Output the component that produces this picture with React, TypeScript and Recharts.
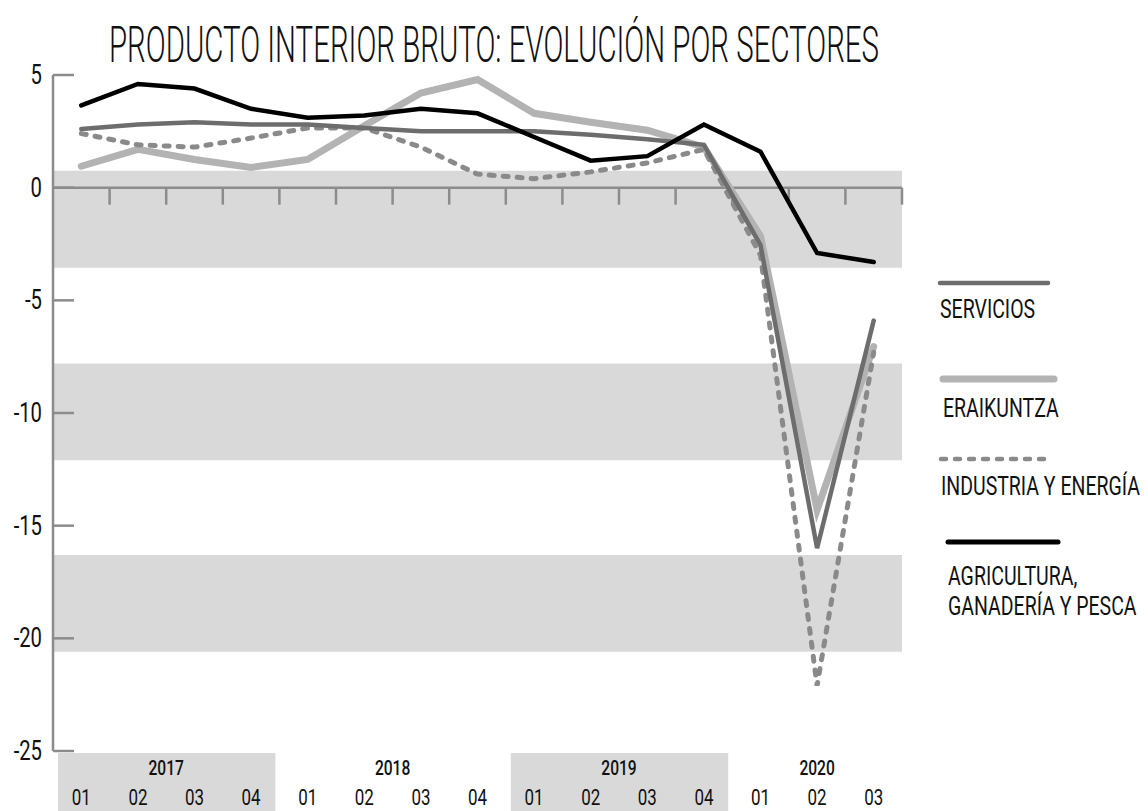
import React from "react";
import {
  ComposedChart,
  Line,
  XAxis,
  YAxis,
  ReferenceArea,
  ReferenceLine,
  Legend,
} from "recharts";

const FONT = "Roboto, 'Liberation Sans', sans-serif";

const years = ["2017", "2017", "2017", "2017", "2018", "2018", "2018", "2018", "2019", "2019", "2019", "2019", "2020", "2020", "2020"];
const quarters = ["01", "02", "03", "04", "01", "02", "03", "04", "01", "02", "03", "04", "01", "02", "03"];

const servicios = [2.6, 2.8, 2.9, 2.8, 2.8, 2.65, 2.5, 2.5, 2.5, 2.35, 2.15, 1.9, -2.55, -16.0, -5.9];
const eraikuntza = [0.95, 1.7, 1.25, 0.9, 1.25, 2.75, 4.2, 4.8, 3.3, 2.9, 2.55, 1.8, -2.15, -14.3, -7.05];
const industria = [2.4, 1.9, 1.8, 2.2, 2.65, 2.65, 1.8, 0.6, 0.4, 0.7, 1.1, 1.7, -3.0, -22.1, -7.3];
const agricultura = [3.65, 4.6, 4.4, 3.5, 3.1, 3.2, 3.5, 3.3, 2.25, 1.2, 1.4, 2.8, 1.6, -2.9, -3.3];

const yTicks = [5, 0, -5, -10, -15, -20, -25];
// shaded horizontal bands (value units)
const bands: [number, number][] = [
  [0.75, -3.55],
  [-7.8, -12.1],
  [-16.3, -20.6],
];

const data = years.map((y, i) => ({
  period: `${y}-${quarters[i]}`,
  servicios: servicios[i],
  eraikuntza: eraikuntza[i],
  industria: industria[i],
  agricultura: agricultura[i],
}));

const SERIES = [
  { key: "eraikuntza", name: "ERAIKUNTZA", color: "#b3b3b3", width: 7, dash: undefined },
  { key: "industria", name: "INDUSTRIA Y ENERGÍA", color: "#8a8a8a", width: 5, dash: "5 9" },
  { key: "servicios", name: "SERVICIOS", color: "#6d6d6d", width: 4.5, dash: undefined },
  { key: "agricultura", name: "AGRICULTURA, GANADERÍA Y PESCA", color: "#000000", width: 4.5, dash: undefined },
];

// legend order and layout (top to bottom)
const LEGEND = [
  { key: "servicios", lines: ["SERVICIOS"], y: 23, dy: 27, x0: 10, x1: 118, lw: 4.5 },
  { key: "eraikuntza", lines: ["ERAIKUNTZA"], y: 119, dy: 30, x0: 13, x1: 124, lw: 7 },
  { key: "industria", lines: ["INDUSTRIA Y ENERGÍA"], y: 199, dy: 28, x0: 11, x1: 120, lw: 4.5 },
  { key: "agricultura", lines: ["AGRICULTURA,", "GANADERÍA Y PESCA"], y: 282, dy: 35, x0: 18, x1: 128, lw: 5 },
];

const AXIS_GREY = "#8c8c8c";

// condensed-looking text: the reference uses a narrow typeface
function CText({ x, y, size, anchor = "middle", weight = 400, sx = 0.77, children }: any) {
  return (
    <text
      transform={`translate(${x},${y}) scale(${sx},1)`}
      textAnchor={anchor}
      dominantBaseline="central"
      fontFamily={FONT}
      fontSize={size}
      fontWeight={weight}
      fill="#111"
    >
      {children}
    </text>
  );
}

function ValueTick(props: any) {
  const { x, y, payload } = props;
  return (
    <g>
      <line x1={x} x2={x + 21} y1={y} y2={y} stroke={AXIS_GREY} strokeWidth={2.5} />
      <CText x={x - 11} y={y} size={27} anchor="end" sx={0.75}>
        {payload.value}
      </CText>
    </g>
  );
}

function PeriodTick(props: any) {
  const { x, y, payload, width } = props;
  const i = payload.index ?? props.index;
  const band = width / years.length;
  const yr = years[i];
  const first = i === 0 || years[i - 1] !== yr;
  const count = years.filter((v) => v === yr).length;
  const yearList = Array.from(new Set(years));
  const shaded = yearList.indexOf(yr) % 2 === 0;
  return (
    <g>
      {first && shaded && (
        <rect x={x - band / 2 + 5} y={y + 2} width={band * count - 9} height={60} fill="#d9d9d9" />
      )}
      {first && (
        <CText x={x + ((count - 1) * band) / 2} y={y + 17} size={20} weight={500} sx={0.78}>
          {yr}
        </CText>
      )}
      <CText x={x} y={y + 47} size={22} sx={0.77}>
        {quarters[i]}
      </CText>
    </g>
  );
}

function ZeroAxis(props: any) {
  const { x1, x2, y1 } = props;
  const band = (x2 - x1) / years.length;
  return (
    <g>
      <line x1={x1} x2={x2} y1={y1} y2={y1} stroke={AXIS_GREY} strokeWidth={2.5} />
      {years.map((_, i) => (
        <line
          key={i}
          x1={x1 + band * (i + 1)}
          x2={x1 + band * (i + 1)}
          y1={y1}
          y2={y1 + 17}
          stroke={AXIS_GREY}
          strokeWidth={2.5}
        />
      ))}
    </g>
  );
}

function LegendBox() {
  return (
    <svg width={218} height={380} style={{ display: "block" }}>
      {LEGEND.map((item) => {
        const s = SERIES.find((v) => v.key === item.key)!;
        return (
          <g key={item.key}>
            <line
              x1={item.x0}
              x2={item.x1}
              y1={item.y}
              y2={item.y}
              stroke={s.color}
              strokeWidth={item.lw}
              strokeDasharray={s.dash}
              strokeLinecap="round"
            />
            {item.lines.map((t, j) => (
              <CText key={j} x={item.x0} y={item.y + item.dy + j * 30} size={26} anchor="start" sx={0.75}>
                {t}
              </CText>
            ))}
          </g>
        );
      })}
    </svg>
  );
}

export default function App() {
  return (
    <div style={{ position: "relative", width: 1140, height: 803 }}>
      <svg
        width={1140}
        height={803}
        style={{ position: "absolute", left: 0, top: 0, pointerEvents: "none", zIndex: 1 }}
      >
        <text
          transform="translate(486,54) scale(1,1.39)"
          textAnchor="middle"
          fontFamily={FONT}
          fontSize={36}
          fontWeight={300}
          textLength={770}
          lengthAdjust="spacingAndGlyphs"
          fill="#111"
        >
          PRODUCTO INTERIOR BRUTO: EVOLUCIÓN POR SECTORES
        </text>
      </svg>
      <ComposedChart
        width={1140}
        height={803}
        data={data}
        margin={{ top: 67, right: 246, bottom: 0, left: 0 }}
      >
        {bands.map(([a, b], i) => (
          <ReferenceArea key={i} y1={a} y2={b} fill="#d9d9d9" fillOpacity={1} stroke="none" />
        ))}
        <XAxis
          dataKey="period"
          scale="band"
          interval={0}
          height={60}
          tickSize={0}
          tickMargin={0}
          axisLine={false}
          tickLine={false}
          tick={<PeriodTick />}
        />
        <YAxis
          domain={[-25, 5]}
          ticks={yTicks}
          interval={0}
          width={45}
          tickSize={0}
          tickMargin={0}
          tickLine={false}
          axisLine={{ stroke: AXIS_GREY, strokeWidth: 2.5 }}
          tick={<ValueTick />}
        />
        <ReferenceLine y={0} shape={<ZeroAxis />} />
        {SERIES.map((s) => (
          <Line
            key={s.key}
            type="linear"
            dataKey={s.key}
            name={s.name}
            stroke={s.color}
            strokeWidth={s.width}
            strokeDasharray={s.dash}
            strokeLinecap="round"
            dot={false}
            activeDot={false}
            isAnimationActive={false}
          />
        ))}
        <Legend
          layout="vertical"
          align="center"
          verticalAlign="middle"
          wrapperStyle={{ left: 922, top: 252, width: 218, height: 380 }}
          content={() => <LegendBox />}
        />
      </ComposedChart>
    </div>
  );
}
